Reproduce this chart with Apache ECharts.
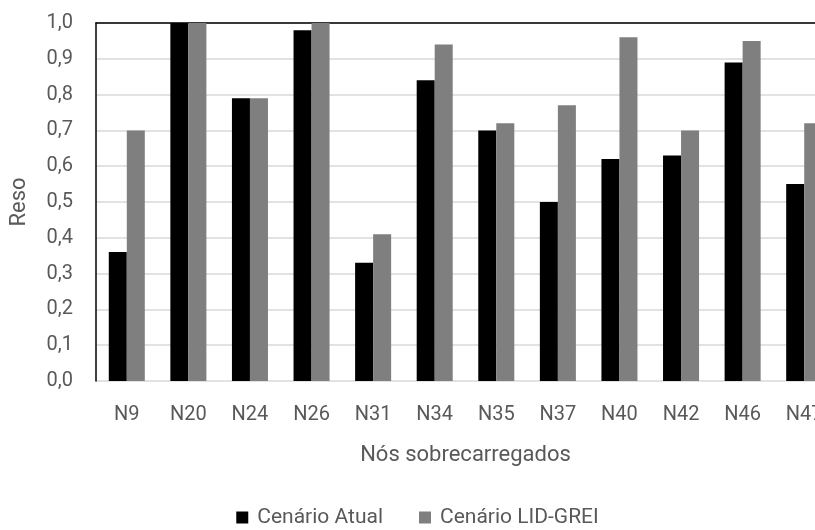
<!DOCTYPE html>
<html><head><meta charset="utf-8">
<script src="https://cdn.jsdelivr.net/npm/echarts@6/dist/echarts.min.js"></script>
<style>html,body{margin:0;padding:0;background:#fff;overflow:hidden}#wrap{width:815px;height:530px;overflow:hidden}#c{width:835px;height:530px}</style>
</head><body><div id="wrap"><div id="c"></div></div>
<script>
const categories = ['N9','N20','N24','N26','N31','N34','N35','N37','N40','N42','N46','N47'];
const atual = [0.36,1.00,0.79,0.98,0.33,0.84,0.70,0.50,0.62,0.63,0.89,0.55];
const lidGrei = [0.70,1.00,0.79,1.00,0.41,0.94,0.72,0.77,0.96,0.70,0.95,0.72];
const seriesNames = ['Cenário Atual','Cenário LID-GREI'];
const font = 'Roboto';
const chart = echarts.init(document.getElementById('c'));
chart.setOption({
  animation:false,
  textStyle:{fontFamily:font},
  grid:{left:96, top:23, right:0, bottom:149, containLabel:false},
  legend:{bottom:-3, left:'center', itemWidth:12, itemHeight:12, itemGap:36, icon:'rect',
    textStyle:{fontFamily:font, fontSize:21, color:'#595959', padding:[0,0,0,4]}, data:seriesNames},
  xAxis:[{type:'category', data:categories, axisLine:{show:false}, axisTick:{show:false},
    axisLabel:{color:'#595959', fontSize:20, margin:24, fontFamily:font},
    name:'Nós sobrecarregados', nameLocation:'middle', nameGap:63,
    nameTextStyle:{color:'#595959', fontSize:22, fontFamily:font}},
    {type:'category', position:'top', data:categories, axisLine:{show:true, lineStyle:{color:'#000', width:1.5}},
    axisTick:{show:false}, axisLabel:{show:false}}],
  yAxis:{type:'value', min:0, max:1, interval:0.1,
    axisLine:{show:true, lineStyle:{color:'#000', width:1.5}}, axisTick:{show:false},
    splitLine:{lineStyle:{color:'#d9d9d9', width:1.5}},
    axisLabel:{color:'#595959', fontSize:20, margin:23, fontFamily:font,
      formatter:v=>v.toFixed(1).replace('.',',')},
    name:'Reso', nameLocation:'middle', nameGap:66,
    nameTextStyle:{color:'#595959', fontSize:22, fontFamily:font}},
  series:[
    {name:seriesNames[0], type:'bar', data:atual, barGap:'0%', barCategoryGap:'41.5%',
      itemStyle:{color:'#000'}},
    {name:seriesNames[1], type:'bar', data:lidGrei, itemStyle:{color:'#7f7f7f'}}
  ]
});
</script></body></html>
